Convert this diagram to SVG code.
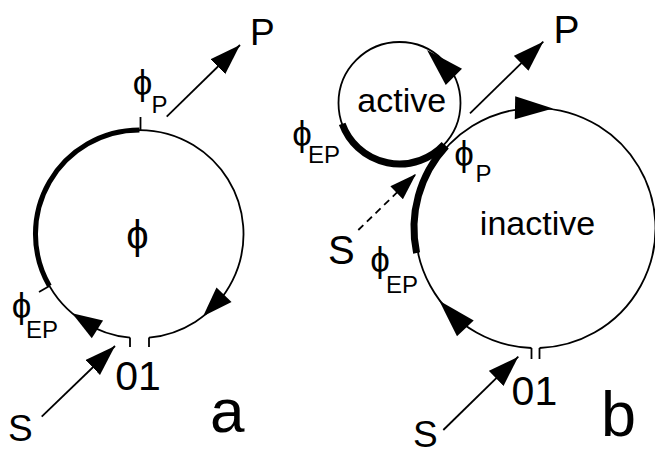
<svg xmlns="http://www.w3.org/2000/svg" xmlns:xlink="http://www.w3.org/1999/xlink" width="655" height="455" viewBox="0 0 655 455">
<style>
  .thin { fill: none; stroke: #000; stroke-width: 1.8; }
  .thickA { fill: none; stroke: #000; stroke-width: 5; }
  .thickB { fill: none; stroke: #000; stroke-width: 7; }
  .conn { fill: none; stroke: #000; stroke-width: 1.8; }
  .dash { stroke-dasharray: 7 5; }
  text { font-family: "Liberation Sans", "DejaVu Sans", sans-serif; fill: #000; }
  .lbl { font-size: 37px; }
  .sub { font-size: 24px; }
  .phi { font-size: 35px; text-anchor: middle; }
  .big { font-size: 62px; }
  .num { font-size: 41px; }
  .word { font-size: 34px; text-anchor: middle; }
</style>
<defs>
  <path id="ah" d="M0,0 L-30,-10.5 L-30,10.5 Z" fill="#000"/>
  <path id="ahB" d="M0,0 L-38,-11.5 L-38,11.5 Z" fill="#000"/>
  <marker id="arr" markerUnits="userSpaceOnUse" markerWidth="32" markerHeight="22" refX="31" refY="10.5" orient="auto">
    <path d="M0,0 L31,10.5 L0,21 Z" fill="#000"/>
  </marker>
  <marker id="arrS" markerUnits="userSpaceOnUse" markerWidth="28" markerHeight="20" refX="27" refY="9" orient="auto">
    <path d="M0,0 L27,9 L0,18 Z" fill="#000"/>
  </marker>
</defs>

<!-- Panel a: single cycle -->
<g id="cycle-a">
  <path class="thin" d="M130,337.6 A104,104 0 1 1 149,337.6"/>
  <path class="thin" d="M130,337.6 V347 M149,337.6 V347"/>
  <path class="thickA" d="M49.4,286 A104,104 0 0 1 139.5,130"/>
  <path class="thin" d="M140.5,131 V117"/>
  <path class="thin" d="M49.4,286 L39,292"/>
  <use xlink:href="#ah" transform="translate(72.1,313.2) rotate(212.4)"/>
  <use xlink:href="#ah" transform="translate(203.1,316.3) rotate(134.2)"/>
  <text class="phi" x="137.5" y="249" style="font-size:40px">ϕ</text>
</g>

<!-- Panel b: active cycle -->
<g id="cycle-active">
  <circle class="thin" cx="399.5" cy="103" r="61"/>
  <path class="thickB" d="M444.2,144.5 A61,61 0 0 1 342.2,123.9"/>
  <use xlink:href="#ahB" transform="translate(427,50) rotate(225)"/>
  <text class="word" x="401.7" y="111.5">active</text>
</g>

<!-- Panel b: inactive cycle -->
<g id="cycle-inactive">
  <path class="thin" d="M531.5,348 A120,120 0 1 1 539.5,348"/>
  <path class="thin" d="M531.5,348 V359 M539.5,348 V359"/>
  <path class="thickB" d="M416.6,252.9 A120,120 0 0 1 446.2,146.2"/>
  <use xlink:href="#ahB" transform="translate(553,108.5) rotate(1)"/>
  <use xlink:href="#ahB" transform="translate(439.3,300.7) rotate(226.7)"/>
  <text class="word" x="537.5" y="235">inactive</text>
</g>

<!-- connectors -->
<g id="connectors">
  <line class="conn" x1="166.7" y1="116.7" x2="240" y2="45" marker-end="url(#arr)"/>
  <line class="conn" x1="41.7" y1="416.7" x2="115" y2="346" marker-end="url(#arr)"/>
  <line class="conn" x1="470" y1="113.3" x2="543.3" y2="41.7" marker-end="url(#arr)"/>
  <line class="conn" x1="443.3" y1="430" x2="518.3" y2="356.7" marker-end="url(#arr)"/>
  <line class="conn dash" x1="358.3" y1="230" x2="416" y2="174" marker-end="url(#arrS)"/>
</g>

<!-- labels panel a -->
<g id="labels-a">
  <text class="lbl" x="250" y="45">P</text>
  <text class="phi" x="142.5" y="95">ϕ</text>
  <text class="sub" x="151.5" y="113">P</text>
  <text class="phi" x="21.5" y="318">ϕ</text>
  <text class="sub" x="26" y="338">EP</text>
  <text class="num" x="115.3" y="390">01</text>
  <text class="lbl" x="8" y="441">S</text>
  <text class="big" x="210" y="432">a</text>
</g>

<!-- labels panel b -->
<g id="labels-b">
  <text class="lbl" x="553.5" y="43" style="font-size:39px">P</text>
  <text class="phi" x="302" y="146">ϕ</text>
  <text class="sub" x="308" y="163">EP</text>
  <text class="phi" x="464" y="166">ϕ</text>
  <text class="sub" x="475.5" y="182">P</text>
  <text class="lbl" x="328" y="264" style="font-size:40px">S</text>
  <text class="phi" x="380" y="272">ϕ</text>
  <text class="sub" x="386" y="293">EP</text>
  <text class="num" x="511.6" y="405">01</text>
  <text class="lbl" x="413" y="447">S</text>
  <text class="big" x="601" y="436" style="font-size:63px">b</text>
</g>
</svg>
